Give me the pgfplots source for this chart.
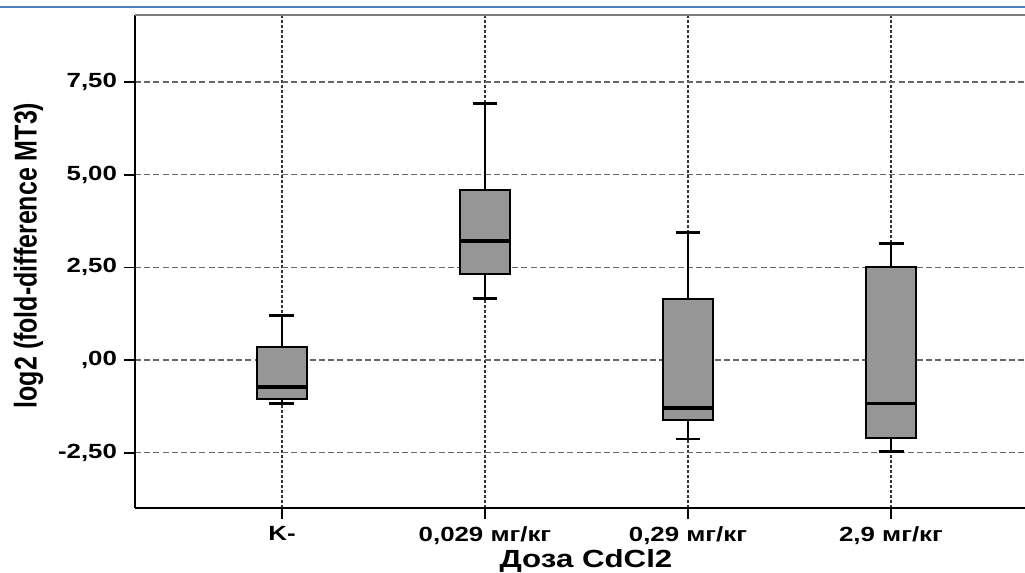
\documentclass[border=0pt]{standalone}
\usepackage{pgfplots}
\pgfplotsset{compat=1.18}
\usepgfplotslibrary{statistics}
\usepackage{fontspec}
\setmainfont{Liberation Sans}
\newcommand{\hs}[1]{\scalebox{1.26}[1]{#1}}
\definecolor{boxgray}{RGB}{150,150,150}
\definecolor{topgray}{RGB}{125,125,125}
\definecolor{frameblue}{RGB}{79,129,189}
\begin{document}
\begin{tikzpicture}
\useasboundingbox (0,0) rectangle (512.5pt,286.5pt);
\draw[frameblue, line width=0.8pt] (0,282.85pt) -- (512.5pt,282.85pt);
\begin{axis}[
  at={(67.5pt,32.35pt)}, anchor=south west,
  scale only axis, width=451.5pt, height=246.65pt,
  xmin=-0.724, xmax=3.724, ymin=-4.0, ymax=9.31,
  axis line style={draw=none},
  clip=false,
  xtick={0,1,2,3},
  xticklabels={{\hs{K-}},{\hs{0,029 мг/кг}},{\hs{0,29 мг/кг}},{\hs{2,9 мг/кг}}},
  ytick={-2.5,0,2.5,5,7.5},
  yticklabels={{\hs{-2,50}},{\hs{,00}},{\hs{2,50}},{\hs{5,00}},{\hs{7,50}}},
  tick align=outside,
  xtick pos=left, ytick pos=left,
  major tick length=5.5pt,
  tick style={black, line width=0.8pt},
  tick label style={font=\fontsize{10.25}{12}\selectfont\bfseries},
  grid=major,
  major x grid style={black!80, line width=0.7pt, dash pattern=on 1.5pt off 1pt},
  major y grid style={black!60, line width=0.7pt, dash pattern=on 3pt off 1.6pt},
  boxplot/draw direction=y,
  boxplot/box extend=0.25,
  boxplot/whisker extend=0.123,
  boxplot/every box/.style={draw=black, fill=boxgray, line width=1pt},
  boxplot/every whisker/.style={black, line width=1.4pt},
  boxplot/every median/.style={black, line width=1.9pt},
]
\addplot[boxplot prepared={draw position=0, lower whisker=-1.18, lower quartile=-1.06, median=-0.72, upper quartile=0.34, upper whisker=1.21}] coordinates {};
\addplot[boxplot prepared={draw position=1, lower whisker=1.65, lower quartile=2.31, median=3.21, upper quartile=4.59, upper whisker=6.92}] coordinates {};
\addplot[boxplot prepared={draw position=2, lower whisker=-2.13, lower quartile=-1.62, median=-1.29, upper quartile=1.65, upper whisker=3.45}] coordinates {};
\addplot[boxplot prepared={draw position=3, lower whisker=-2.47, lower quartile=-2.11, median=-1.17, upper quartile=2.52, upper whisker=3.15}] coordinates {};
\draw[black, line width=0.8pt] (rel axis cs:0,0) -- (rel axis cs:0,1);
\draw[black, line width=0.8pt] (rel axis cs:0,0) -- (rel axis cs:1,0);
\draw[topgray, line width=1.3pt] (rel axis cs:0,1) -- (rel axis cs:1,1);
\end{axis}
\node[rotate=90, font=\fontsize{12.5}{14}\selectfont\bfseries] at (14.25pt,158.75pt) {\scalebox{1}[1.26]{log2 (fold-difference MT3)}};
\node[anchor=base, font=\fontsize{12.4}{14}\selectfont\bfseries] at (293pt,2.6pt) {\hs{Доза CdCl2}};
\end{tikzpicture}
\end{document}
